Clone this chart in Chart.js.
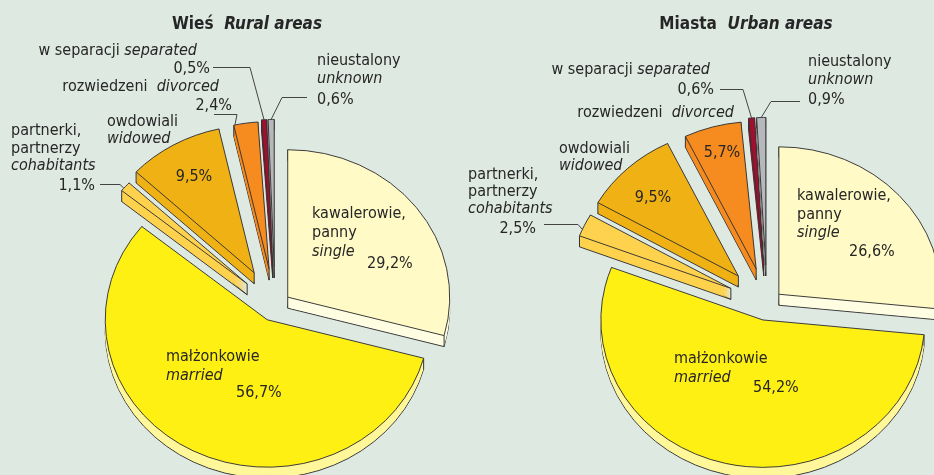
<!DOCTYPE html>
<html>
<head>
<meta charset="utf-8">
<script src="https://cdn.jsdelivr.net/npm/chart.js@4.4.1/dist/chart.umd.min.js"></script>
<style>
  html, body { margin:0; padding:0; width:934px; height:475px; overflow:hidden; background:#dee9e2; }
  canvas { position:absolute; left:0; top:0; }
</style>
</head>
<body>
<canvas id="rural" width="934" height="475"></canvas>
<canvas id="urban" width="934" height="475"></canvas>
<script>
// data
const categoriesPl = ['kawalerowie,\npanny', 'małżonkowie', 'partnerki,\npartnerzy', 'owdowiali', 'rozwiedzeni', 'w separacji', 'nieustalony'];
const categoriesEn = ['single', 'married', 'cohabitants', 'widowed', 'divorced', 'separated', 'unknown'];
const ruralValues = [29.2, 56.7, 1.1, 9.5, 2.4, 0.5, 0.6];
const urbanValues = [26.6, 54.2, 2.5, 9.5, 5.7, 0.6, 0.9];
const titlesPl = ['Wieś', 'Miasta'];
const titlesEn = ['Rural areas', 'Urban areas'];

// look
const topColors  = ['#fffac6', '#fff014', '#ffd24d', '#f0b114', '#f68b1f', '#a0102e', '#b7b8bc'];
const sideColors = ['#fffde2', '#fff799', '#ffd24d', '#f0b114', '#f68b1f', '#a0102e', '#b7b8bc'];
const EDGE = '#333333', INK = '#262626';
const FONT = "'Liberation Sans Narrow','DejaVu Sans Condensed','Arial Narrow',sans-serif";
const SQUISH = 0.91, DEPTH = 11, RADIUS = 162;

const ruralLayout = {
  pad: {left:0, right:384, top:137, bottom:0},
  explode: [16, 17, 37, 42, 41, 43, 43],
  title: {x:247, y:29},
  texts: [
    {i:0, kind:'pl', x:312, y:218, lh:19}, {i:0, kind:'en', x:312, y:256}, {i:0, kind:'pct', x:367, y:268},
    {i:1, kind:'pl', x:166, y:361}, {i:1, kind:'en', x:166, y:380}, {i:1, kind:'pct', x:236, y:397},
    {i:2, kind:'pl', x:11, y:135, lh:18}, {i:2, kind:'en', x:11, y:170}, {i:2, kind:'pct', x:95, y:190, align:'right'},
    {i:3, kind:'pl', x:107, y:126}, {i:3, kind:'en', x:107, y:143}, {i:3, kind:'pct', x:194, y:181, align:'center'},
    {i:4, kind:'plen', gap:'  ', x:219, y:91, align:'right'}, {i:4, kind:'pct', x:232, y:110, align:'right'},
    {i:5, kind:'plen', gap:' ', x:197, y:55, align:'right'}, {i:5, kind:'pct', x:210, y:73, align:'right'},
    {i:6, kind:'pl', x:317, y:65}, {i:6, kind:'en', x:317, y:83}, {i:6, kind:'pct', x:317, y:104}
  ],
  leaders: [
    {i:2, pts:[[100,184],[120,184]], t:0.3},
    {i:4, pts:[[214,114],[237,114]], t:0.05},
    {i:5, pts:[[213,67],[250,67]], t:0.5},
    {i:6, pts:[[307,97],[282,97]], t:0.5}
  ]
};

const urbanLayout = {
  pad: {left:600, right:0, top:133, bottom:0},
  explode: [16, 18, 40, 42, 40, 43, 43],
  title: {x:746, y:29},
  texts: [
    {i:0, kind:'pl', x:797, y:200, lh:18.5}, {i:0, kind:'en', x:797, y:237}, {i:0, kind:'pct', x:849, y:256},
    {i:1, kind:'pl', x:674, y:363}, {i:1, kind:'en', x:674, y:382}, {i:1, kind:'pct', x:753, y:392},
    {i:2, kind:'pl', x:468, y:179, lh:17}, {i:2, kind:'en', x:468, y:213}, {i:2, kind:'pct', x:536, y:233, align:'right'},
    {i:3, kind:'pl', x:559, y:153}, {i:3, kind:'en', x:559, y:170}, {i:3, kind:'pct', x:653, y:202, align:'center'},
    {i:4, kind:'plen', gap:'  ', x:734, y:117, align:'right'}, {i:4, kind:'pct', x:722, y:157, align:'center'},
    {i:5, kind:'plen', gap:' ', x:710, y:74, align:'right'}, {i:5, kind:'pct', x:714, y:94, align:'right'},
    {i:6, kind:'pl', x:808, y:66}, {i:6, kind:'en', x:808, y:84}, {i:6, kind:'pct', x:808, y:104}
  ],
  leaders: [
    {i:2, pts:[[544,224],[578,224]], t:0.3},
    {i:5, pts:[[720,89],[743,89]], t:0.5},
    {i:6, pts:[[800,101],[771,101]], t:0.5}
  ]
};

function pct(v){ return v.toFixed(1).replace('.', ',') + '%'; }

function slicePoint(arc, e, t, rf){
  const a = arc.startAngle + t*(arc.endAngle - arc.startAngle);
  const mid = (arc.startAngle + arc.endAngle)/2;
  const ux = Math.cos(a)*arc.outerRadius*rf + Math.cos(mid)*e;
  const uy = Math.sin(a)*arc.outerRadius*rf + Math.sin(mid)*e;
  return {x: arc.x + ux, y: arc.y + uy*SQUISH};
}

function drawSegs(ctx, segs, x, y, align){
  let w = 0;
  segs.forEach(s => { ctx.font = s.font; w += ctx.measureText(s.t).width; });
  let cx = align === 'right' ? x - w : align === 'center' ? x - w/2 : x;
  segs.forEach(s => { ctx.font = s.font; ctx.fillText(s.t, cx, y); cx += ctx.measureText(s.t).width; });
}

const pie3d = {
  id: 'pie3d',
  beforeDatasetsDraw(chart, args, opts){
    const ctx = chart.ctx;
    const L = opts.layout;
    const arcs = chart.getDatasetMeta(0).data;
    const face = (arc, i, d, fill, border) => {
      const fake = Object.create(arc);
      fake.options = Object.assign({}, arc.options, {backgroundColor: fill, borderColor: EDGE, borderWidth: border ? 1 : 0, offset: 0});
      const mid = (arc.startAngle + arc.endAngle)/2, e = L.explode[i];
      ctx.save();
      ctx.translate(arc.x, arc.y + d);
      ctx.scale(1, SQUISH);
      ctx.translate(-arc.x + Math.cos(mid)*e, -arc.y + Math.sin(mid)*e);
      arc.draw.call(fake, ctx);
      ctx.restore();
    };
    // sides
    arcs.forEach((arc, i) => {
      for (let d = DEPTH; d >= 1; d--) face(arc, i, d, sideColors[i], d === DEPTH);
    });
    // vertical edges
    ctx.save();
    ctx.strokeStyle = EDGE; ctx.lineWidth = 1;
    arcs.forEach((arc, i) => {
      const e = L.explode[i];
      [slicePoint(arc, e, 0, 1), slicePoint(arc, e, 1, 1), slicePoint(arc, e, 0, 0)].forEach(p => {
        ctx.beginPath(); ctx.moveTo(p.x, p.y); ctx.lineTo(p.x, p.y + DEPTH); ctx.stroke();
      });
    });
    ctx.restore();
    // tops
    arcs.forEach((arc, i) => face(arc, i, 0, topColors[i], true));
    return false;
  },
  afterDraw(chart, args, opts){
    const ctx = chart.ctx;
    const L = opts.layout;
    const arcs = chart.getDatasetMeta(0).data;
    const values = chart.data.datasets[0].data;
    const reg = '16px ' + FONT, ita = 'italic 16px ' + FONT;
    ctx.save();
    ctx.fillStyle = INK;
    ctx.textBaseline = 'alphabetic';
    // title
    drawSegs(ctx, [
      {t: titlesPl[opts.title] + '  ', font: 'bold 17px ' + FONT},
      {t: titlesEn[opts.title], font: 'italic bold 17px ' + FONT}
    ], L.title.x, L.title.y, 'center');
    // labels
    L.texts.forEach(it => {
      const al = it.align || 'left';
      if (it.kind === 'pl') {
        categoriesPl[it.i].split('\n').forEach((ln, k) => drawSegs(ctx, [{t: ln, font: reg}], it.x, it.y + k*(it.lh || 18), al));
      } else if (it.kind === 'en') {
        drawSegs(ctx, [{t: categoriesEn[it.i], font: ita}], it.x, it.y, al);
      } else if (it.kind === 'plen') {
        drawSegs(ctx, [{t: categoriesPl[it.i] + it.gap, font: reg}, {t: categoriesEn[it.i], font: ita}], it.x, it.y, al);
      } else {
        drawSegs(ctx, [{t: pct(values[it.i]), font: reg}], it.x, it.y, al);
      }
    });
    // leader lines
    ctx.strokeStyle = '#444'; ctx.lineWidth = 1;
    L.leaders.forEach(ld => {
      const end = slicePoint(arcs[ld.i], L.explode[ld.i], ld.t, 1);
      ctx.beginPath();
      ctx.moveTo(ld.pts[0][0], ld.pts[0][1] + 0.5);
      ld.pts.slice(1).forEach(p => ctx.lineTo(p[0], p[1] + 0.5));
      ctx.lineTo(end.x, end.y);
      ctx.stroke();
    });
    ctx.restore();
  }
};

function makeChart(id, values, L, titleIdx){
  return new Chart(document.getElementById(id), {
    type: 'pie',
    data: {
      labels: categoriesEn,
      datasets: [{ data: values, backgroundColor: topColors, borderColor: EDGE, borderWidth: 1 }]
    },
    options: {
      responsive: false,
      animation: false,
      events: [],
      radius: RADIUS,
      layout: { padding: L.pad },
      plugins: {
        legend: { display: false },
        tooltip: { enabled: false },
        pie3d: { layout: L, title: titleIdx }
      }
    },
    plugins: [pie3d]
  });
}

makeChart('rural', ruralValues, ruralLayout, 0);
makeChart('urban', urbanValues, urbanLayout, 1);
</script>
</body>
</html>
